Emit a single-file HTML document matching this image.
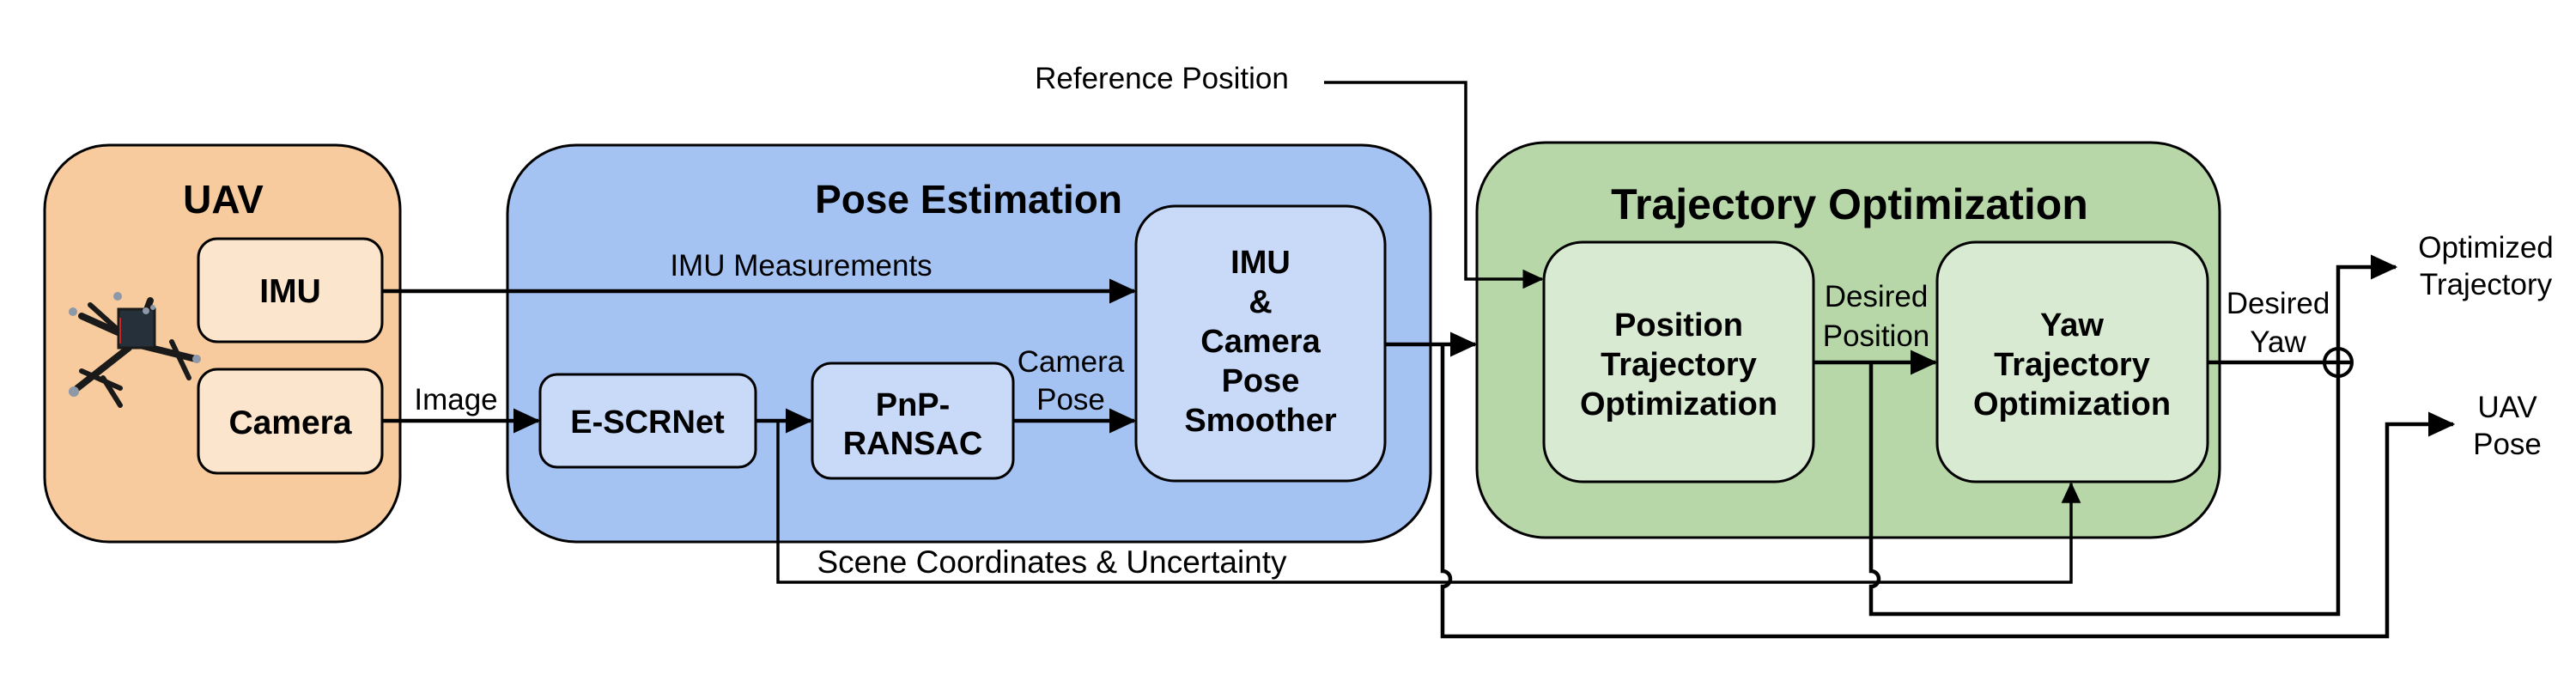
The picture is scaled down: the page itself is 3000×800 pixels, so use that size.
<!DOCTYPE html>
<html><head><meta charset="utf-8"><style>
html,body{margin:0;padding:0;background:#fff;}
svg{display:block;}
text{font-family:"Liberation Sans",sans-serif;fill:#000;}
.b{font-weight:bold;}
</style></head><body>
<svg width="3000" height="800" viewBox="0 0 3000 800" xmlns="http://www.w3.org/2000/svg">
<defs>
<marker id="a" markerWidth="7" markerHeight="6.5" refX="6.5" refY="3.25" orient="auto" markerUnits="strokeWidth">
<path d="M0,0 L7,3.25 L0,6.5 Z" fill="#000"/></marker>
</defs>
<rect x="52" y="169" width="414" height="462" rx="75" fill="#f8cb9e" stroke="#000" stroke-width="3"/>
<rect x="591" y="169" width="1075" height="462" rx="80" fill="#a5c3f2" stroke="#000" stroke-width="3"/>
<rect x="1720" y="166" width="865" height="460" rx="80" fill="#b7d7a8" stroke="#000" stroke-width="3"/>
<text x="260" y="248" font-size="46" class="b" text-anchor="middle">UAV</text>
<text x="1128" y="248" font-size="46" class="b" text-anchor="middle">Pose Estimation</text>
<text x="2154" y="255" font-size="50" class="b" text-anchor="middle">Trajectory Optimization</text>
<rect x="231" y="278" width="214" height="120" rx="22" fill="#fce5cd" stroke="#000" stroke-width="3"/>
<rect x="231" y="430" width="214" height="121" rx="22" fill="#fce5cd" stroke="#000" stroke-width="3"/>
<text x="338" y="352" font-size="39" class="b" text-anchor="middle">IMU</text>
<text x="338" y="505" font-size="39" class="b" text-anchor="middle">Camera</text>
<rect x="629" y="436" width="251" height="108" rx="20" fill="#c9daf8" stroke="#000" stroke-width="3"/>
<text x="754" y="504" font-size="38" class="b" text-anchor="middle">E-SCRNet</text>
<rect x="946" y="423" width="234" height="134" rx="22" fill="#c9daf8" stroke="#000" stroke-width="3"/>
<text x="1063" y="484" font-size="38" class="b" text-anchor="middle">PnP-</text>
<text x="1063" y="529" font-size="38" class="b" text-anchor="middle">RANSAC</text>
<rect x="1323" y="240" width="290" height="320" rx="45" fill="#c9daf8" stroke="#000" stroke-width="3"/>
<g font-size="38" class="b" text-anchor="middle">
<text x="1468" y="318">IMU</text>
<text x="1468" y="364">&amp;</text>
<text x="1468" y="410">Camera</text>
<text x="1468" y="456">Pose</text>
<text x="1468" y="502">Smoother</text>
</g>
<rect x="1798" y="282" width="314" height="279" rx="45" fill="#d9ead3" stroke="#000" stroke-width="3"/>
<rect x="2256" y="282" width="315" height="279" rx="45" fill="#d9ead3" stroke="#000" stroke-width="3"/>
<g font-size="38" class="b" text-anchor="middle">
<text x="1955" y="391">Position</text>
<text x="1955" y="437">Trajectory</text>
<text x="1955" y="483">Optimization</text>
<text x="2413" y="391">Yaw</text>
<text x="2413" y="437">Trajectory</text>
<text x="2413" y="483">Optimization</text>
</g>
<!-- drone -->
<g stroke="#1a1a1a" stroke-linecap="round" fill="none">
<path d="M155,395 L95,368 M155,400 L228,418 M150,405 L90,452 M160,390 L175,350" stroke-width="8"/>
<path d="M105,355 L135,382 M200,398 L220,440 M95,432 L140,452 M120,440 L140,472" stroke-width="6"/>
<rect x="138" y="360" width="42" height="45" fill="#26303a" stroke-width="3"/>
</g>
<g fill="#8d98a8"><circle cx="137" cy="345" r="5"/><circle cx="85" cy="363" r="5"/><circle cx="229" cy="418" r="5"/><circle cx="86" cy="456" r="6"/><circle cx="170" cy="362" r="4"/><circle cx="178" cy="358" r="3"/></g>
<g stroke="#cc2222" stroke-width="2"><path d="M140,370 V400"/></g>
<g font-size="35" text-anchor="middle">
<text x="933" y="321">IMU Measurements</text>
<text x="531" y="477">Image</text>
<text x="1247" y="433">Camera</text>
<text x="1247" y="477">Pose</text>
<text x="1225" y="667" font-size="37">Scene Coordinates &amp; Uncertainty</text>
<text x="1353" y="103">Reference Position</text>
<text x="2185" y="357">Desired</text>
<text x="2185" y="403">Position</text>
<text x="2653" y="365">Desired</text>
<text x="2653" y="410">Yaw</text>
<text x="2895" y="300">Optimized</text>
<text x="2895" y="343">Trajectory</text>
<text x="2920" y="486">UAV</text>
<text x="2920" y="529">Pose</text>
</g>
<g stroke="#000" stroke-width="4.5" fill="none">
<path d="M445,339 H1321" marker-end="url(#a)"/>
<path d="M445,490 H627" marker-end="url(#a)"/>
<path d="M880,490 H944" marker-end="url(#a)"/>
<path d="M1180,490 H1321" marker-end="url(#a)"/>
<path d="M1542,96 H1707 V325 H1796" marker-end="url(#a)" stroke-width="3.5"/>
<path d="M1613,401 H1718" marker-end="url(#a)"/>
<path d="M906,490 V678 H2412 V563" marker-end="url(#a)" stroke-width="3.5"/>
<path d="M1680,401 V665 A9,9 0 0 1 1680,683 V741 H2780 V494 H2857" marker-end="url(#a)"/>
<path d="M2112,422 H2254" marker-end="url(#a)"/>
<path d="M2179,422 V665 A9,9 0 0 1 2179,683 V715 H2723 V311 H2790" marker-end="url(#a)"/>
<path d="M2571,422 H2738"/>
<circle cx="2723" cy="422" r="16" stroke-width="4"/>
</g>
</svg>
</body></html>
